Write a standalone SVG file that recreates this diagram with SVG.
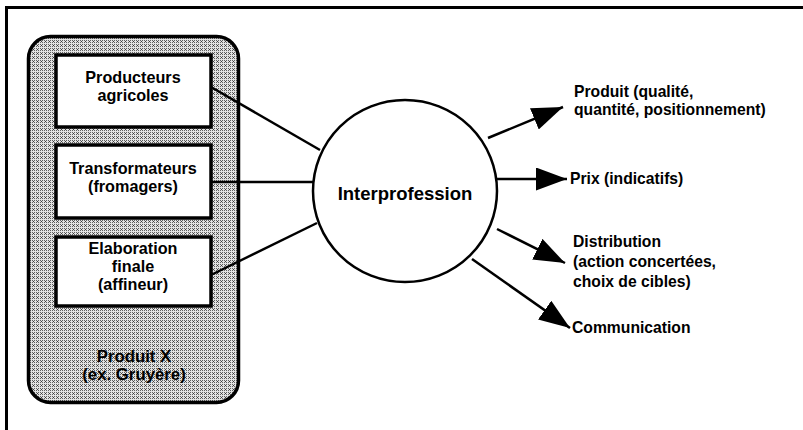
<svg xmlns="http://www.w3.org/2000/svg" width="803" height="430" viewBox="0 0 803 430">
<style>
  .t { font-family: "Liberation Sans", Arial, sans-serif; font-weight: bold; font-size: 15.7px; fill: #000; }
  .b { font-size: 16.2px; }
  .c { text-anchor: middle; }
  .box { fill: #fff; stroke: #000; stroke-width: 3.5; }
  .ln { stroke: #000; stroke-width: 2.5; fill: none; }
</style>
<defs>
  <pattern id="hatch" width="4" height="4" patternUnits="userSpaceOnUse">
    <rect width="4" height="4" fill="#e2e2e2"/>
    <path d="M0,0 L3,3 M3,0 L0,3" stroke="#2a2a2a" stroke-width="0.7"/>
  </pattern>
  <marker id="arr" viewBox="0 0 31 23" refX="31" refY="11.5" markerWidth="31" markerHeight="23" markerUnits="userSpaceOnUse" orient="auto">
    <path d="M0,0 L31,11.5 L0,23 Z" fill="#000"/>
  </marker>
</defs>
<rect width="803" height="430" fill="#fff"/>
<g id="frame">
  <line x1="6.5" y1="7.5" x2="803" y2="7.5" stroke="#000" stroke-width="3"/>
  <line x1="6.5" y1="6" x2="6.5" y2="430" stroke="#000" stroke-width="3"/>
</g>
<g id="container">
  <rect x="28.5" y="36.5" width="210" height="366" rx="22" fill="url(#hatch)" stroke="#000" stroke-width="3.5"/>
  <text class="t c" x="134" y="362" style="font-size:16.8px">Produit X</text>
  <text class="t c" x="134" y="380" style="font-size:16.8px">(ex. Gruyère)</text>
</g>
<g id="connectors">
  <line class="ln" x1="211" y1="87" x2="320" y2="150"/>
  <line class="ln" x1="211" y1="182" x2="313" y2="182"/>
  <line class="ln" x1="211" y1="275" x2="317" y2="223"/>
  <line class="ln" x1="488" y1="138" x2="563" y2="107" marker-end="url(#arr)"/>
  <line class="ln" x1="497" y1="179" x2="567" y2="179" marker-end="url(#arr)"/>
  <line class="ln" x1="497" y1="229" x2="565" y2="263" marker-end="url(#arr)"/>
  <line class="ln" x1="472" y1="259" x2="570" y2="328" marker-end="url(#arr)"/>
</g>
<g id="producteurs">
  <rect class="box" x="56" y="55" width="155" height="72"/>
  <text class="t b c" x="133" y="83">Producteurs</text>
  <text class="t b c" x="133" y="101">agricoles</text>
</g>
<g id="transformateurs">
  <rect class="box" x="56" y="145" width="155" height="73"/>
  <text class="t b c" x="133" y="174">Transformateurs</text>
  <text class="t b c" x="133" y="192">(fromagers)</text>
</g>
<g id="elaboration">
  <rect class="box" x="56" y="237" width="155" height="69"/>
  <text class="t b c" x="133" y="254">Elaboration</text>
  <text class="t b c" x="133" y="272">finale</text>
  <text class="t b c" x="133" y="290">(affineur)</text>
</g>
<g id="interprofession">
  <ellipse cx="405" cy="191" rx="92" ry="91" fill="#fff" stroke="#000" stroke-width="2.5"/>
  <text class="t c" x="405" y="200" style="font-size:18.5px">Interprofession</text>
</g>
<g id="labels">
  <text class="t" x="574" y="97">Produit (qualité,</text>
  <text class="t" x="574" y="115">quantité, positionnement)</text>
  <text class="t" x="570" y="184">Prix (indicatifs)</text>
  <text class="t" x="573" y="247">Distribution</text>
  <text class="t" x="573" y="267">(action concertées,</text>
  <text class="t" x="573" y="287">choix de cibles)</text>
  <text class="t" x="572" y="333">Communication</text>
</g>
</svg>
